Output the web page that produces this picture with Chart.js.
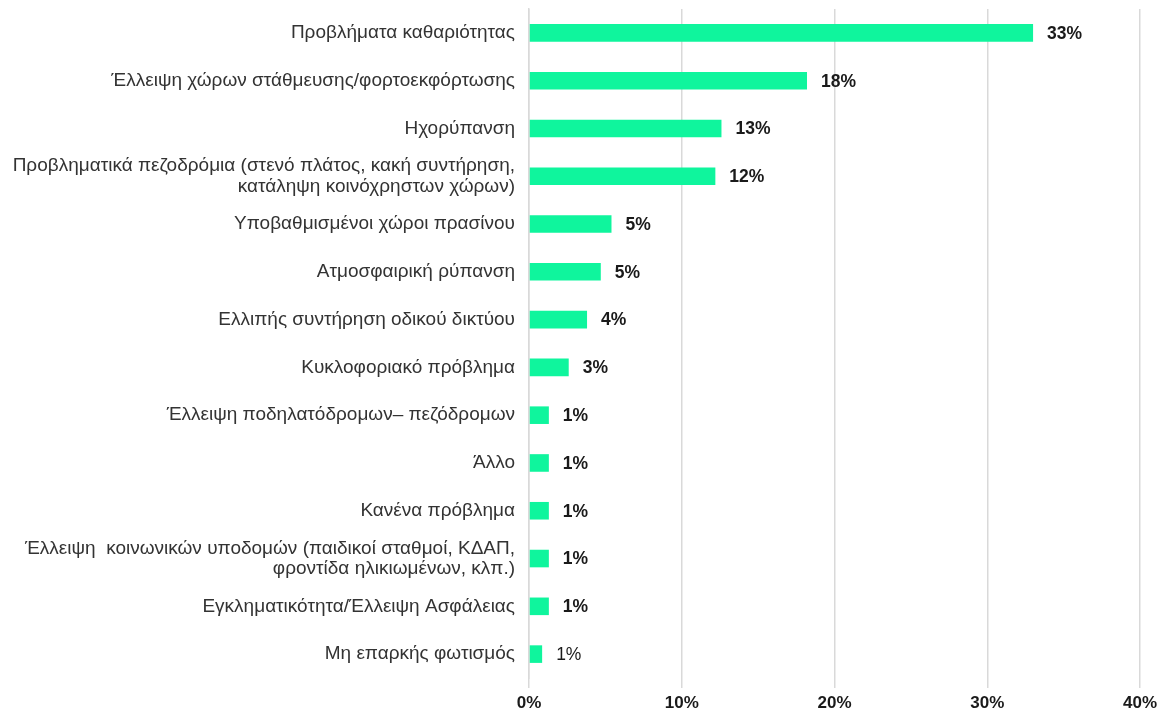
<!DOCTYPE html>
<html>
<head>
<meta charset="utf-8">
<script src="https://cdn.jsdelivr.net/npm/chart.js@4"></script>
<style>
  html, body { margin: 0; padding: 0; background: #fff; }
  #wrap { width: 1163px; height: 711px; }
</style>
</head>
<body>
<div id="wrap"><canvas id="problemsChart" width="1163" height="711"></canvas></div>
<script>
// κατηγορίες (οι μεγάλες σε δύο γραμμές)
const categories = [
  'Προβλήματα καθαριότητας',
  'Έλλειψη χώρων στάθμευσης/φορτοεκφόρτωσης',
  'Ηχορύπανση',
  ['Προβληματικά πεζοδρόμια (στενό πλάτος, κακή συντήρηση,', 'κατάληψη κοινόχρηστων χώρων)'],
  'Υποβαθμισμένοι χώροι πρασίνου',
  'Ατμοσφαιρική ρύπανση',
  'Ελλιπής συντήρηση οδικού δικτύου',
  'Κυκλοφοριακό πρόβλημα',
  'Έλλειψη ποδηλατόδρομων– πεζόδρομων',
  'Άλλο',
  'Κανένα πρόβλημα',
  ['Έλλειψη  κοινωνικών υποδομών (παιδικοί σταθμοί, ΚΔΑΠ,', 'φροντίδα ηλικιωμένων, κλπ.)'],
  'Εγκληματικότητα/Έλλειψη Ασφάλειας',
  'Μη επαρκής φωτισμός'
];

// ποσοστά (%)
const shares = [33, 18.2, 12.6, 12.2, 5.4, 4.7, 3.8, 2.6, 1.3, 1.3, 1.3, 1.3, 1.3, 0.86];

// τιμές άξονα x
const xTicks = [0, 10, 20, 30, 40];

const barColor = '#0ff59d';
const gridColor = '#d9d9d9';

// ετικέτες τιμών δίπλα στις μπάρες
const valueLabels = {
  id: 'valueLabels',
  afterDatasetsDraw(chart) {
    const ctx = chart.ctx;
    const meta = chart.getDatasetMeta(0);
    ctx.save();
    ctx.textBaseline = 'middle';
    ctx.textAlign = 'left';
    ctx.fillStyle = '#1a1a1a';
    meta.data.forEach((bar, i) => {
      const last = i === meta.data.length - 1;
      ctx.font = (last ? '' : 'bold ') + '17.5px "Liberation Sans", Arial, sans-serif';
      ctx.fillText(Math.round(shares[i]) + '%', bar.x + 14, bar.y + 1);
    });
    ctx.restore();
  }
};

const config = {
  type: 'bar',
  data: {
    labels: categories,
    datasets: [{
      data: shares,
      backgroundColor: barColor,
      borderWidth: 0,
      categoryPercentage: 0.8,
      barPercentage: 0.46
    }]
  },
  options: {
    indexAxis: 'y',
    responsive: false,
    animation: false,
    layout: { padding: { top: 9, right: 23, bottom: 0, left: 0 } },
    plugins: {
      legend: { display: false },
      tooltip: { enabled: false }
    },
    scales: {
      x: {
        min: 0,
        max: 40,
        afterBuildTicks(scale) {
          scale.ticks = xTicks.map(v => ({ value: v }));
        },
        afterFit(scale) { scale.height = 33; },
        grid: { color: gridColor, lineWidth: 1.5, tickLength: 10, drawTicks: true },
        border: { display: false },
        ticks: {
          color: '#1a1a1a',
          padding: 5,
          font: { family: '"Liberation Sans", Arial, sans-serif', size: 17, weight: 'bold' },
          callback: v => v + '%'
        }
      },
      y: {
        afterFit(scale) {
          scale.width = 529;
          scale.paddingTop = 0;
          scale.paddingBottom = 0;
        },
        grid: { display: false },
        border: { display: true, color: gridColor, width: 1.5 },
        ticks: {
          color: '#333',
          padding: 6,
          font: { family: '"Liberation Sans", Arial, sans-serif', size: 19, lineHeight: 1.06 }
        }
      }
    }
  },
  plugins: [valueLabels]
};

const problemsChart = new Chart(document.getElementById('problemsChart'), config);
</script>
</body>
</html>
